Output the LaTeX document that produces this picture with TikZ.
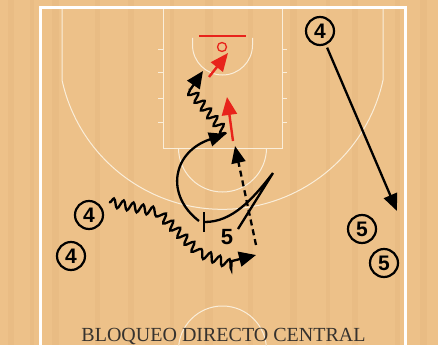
\documentclass[tikz,border=0pt]{standalone}
\usepackage{fontspec}
\setmainfont{Liberation Serif}
\newfontfamily\numfont{Liberation Sans}
\usetikzlibrary{arrows.meta,decorations.pathmorphing}
\definecolor{wood}{HTML}{EDC189}
\definecolor{woodd}{HTML}{DDAA72}
\definecolor{courtline}{HTML}{FAEEDA}
\definecolor{redline}{HTML}{E8231B}
\definecolor{titlecol}{HTML}{36322E}
\tikzset{
  player/.style={circle, draw=black, line width=2.2pt, minimum size=28pt, inner sep=0pt,
    font=\numfont\bfseries\fontsize{21}{21}\selectfont},
  cline/.style={draw=courtline, line width=1pt},
  mv/.style={line width=2.3pt, -{Triangle[length=17pt,width=14pt]}},
  redmv/.style={draw=redline, line width=2.4pt, -{Triangle[length=18pt,width=15pt]}},
  dribble/.style={line width=2.3pt, decorate,
    decoration={snake, amplitude=4.5pt, segment length=10pt, pre length=1pt, post length=#1},
    -{Triangle[length=17pt,width=15pt]}},
  dribble/.default=18pt,
  screenline/.style={line width=2.3pt, -{Bar[width=20pt,line width=2.3pt]}},
  passline/.style={line width=2.3pt, dash pattern=on 6pt off 4pt, -{Triangle[length=17pt,width=14pt]}}
}
\begin{document}
\begin{tikzpicture}[x=1pt,y=-1pt]
\useasboundingbox (0,0) rectangle (438,345);
\fill[wood] (0,0) rectangle (438,345);
% wood grain
\foreach \x/\w in {8/6,30/4,52/7,95/5,128/6,170/4,205/8,248/5,290/7,326/4,352/6,395/5,420/7}
  \fill[woodd,opacity=0.2] (\x,0) rectangle ++(\w,345);
\begin{scope}
\clip (0,0) rectangle (438,345);
% three point line
\draw[cline] (62,8) -- (62,80) arc[start angle=167.7, end angle=12.3, radius=164.3] -- (383,8);
% key
\draw[cline] (163,8) -- (163,148) -- (282,148) -- (282,8);
\draw[cline] (178.5,148) arc[start angle=180, end angle=0, radius=44];
% lane marks
\foreach \y in {49,72,98,122} {
  \draw[cline] (158,\y) -- (163,\y);
  \draw[cline] (282,\y) -- (287,\y);
}
% no charge semicircle
\draw[cline] (192.5,38) -- (192.5,45) arc[start angle=180, end angle=0, radius=30] -- (252.5,38);
% centre circle
\draw[cline] (222.5,350) circle[radius=44];
% boundary
\draw[white, line width=3pt] (40,345) -- (40,8) -- (405,8) -- (405,345);
\end{scope}
% backboard and rim
\draw[redline, line width=1.5pt] (199,36) -- (246,36);
\draw[redline, line width=1.3pt] (222,47) circle[radius=4.5];

% players
\node[player] (p4c) at (320,31) {4};
\node[player] (p4a) at (89,215) {4};
\node[player] (p4b) at (71,256) {4};
\node[player] (p5a) at (362,229) {5};
\node[player] (p5b) at (384,263) {5};
\node[font=\numfont\bfseries\fontsize{22}{22}\selectfont, inner sep=1pt] (five) at (227,237) {5};

% coordinates
\coordinate (t1) at (397,211);
\coordinate (w1s) at (109,202);
\coordinate (w1a) at (157,212);
\coordinate (w1b) at (195,250);
\coordinate (w1c) at (228,262);
\coordinate (w1e) at (256,255);
\coordinate (c0) at (199,221);
\coordinate (c1) at (226,134);
\coordinate (w2a) at (190,90);
\coordinate (w2e) at (203,71);
\coordinate (r1s) at (233,141);
\coordinate (r1e) at (227,97);
\coordinate (r2s) at (209,77);
\coordinate (r2e) at (228,53);
\coordinate (s0) at (238,229);
\coordinate (s1) at (273,173);
\coordinate (s2) at (203,222);
\coordinate (d0) at (256,245);
\coordinate (d1) at (235,146);

% movements
\draw[mv, shorten <=3pt] (p4c) -- (t1);
\draw[dribble=20pt] (w1s) -- (w1a) -- (w1b) -- (w1c) -- (w1e);
\draw[mv] (c0) .. controls (165,195) and (172,152) .. (c1);
\draw[dribble=19pt] (c1) -- (w2a) -- (w2e);
\draw[redmv] (r1s) -- (r1e);
\draw[redmv] (r2s) -- (r2e);
\draw[screenline] (s0) -- (s1) .. controls (252,200) and (232,222) .. (s2);
\draw[passline] (d0) -- (d1);

% title
\node[anchor=base, text=titlecol, font=\fontsize{20}{20}\selectfont, inner sep=0pt] (title) at (223.5,341) {BLOQUEO DIRECTO CENTRAL};
\end{tikzpicture}
\end{document}
